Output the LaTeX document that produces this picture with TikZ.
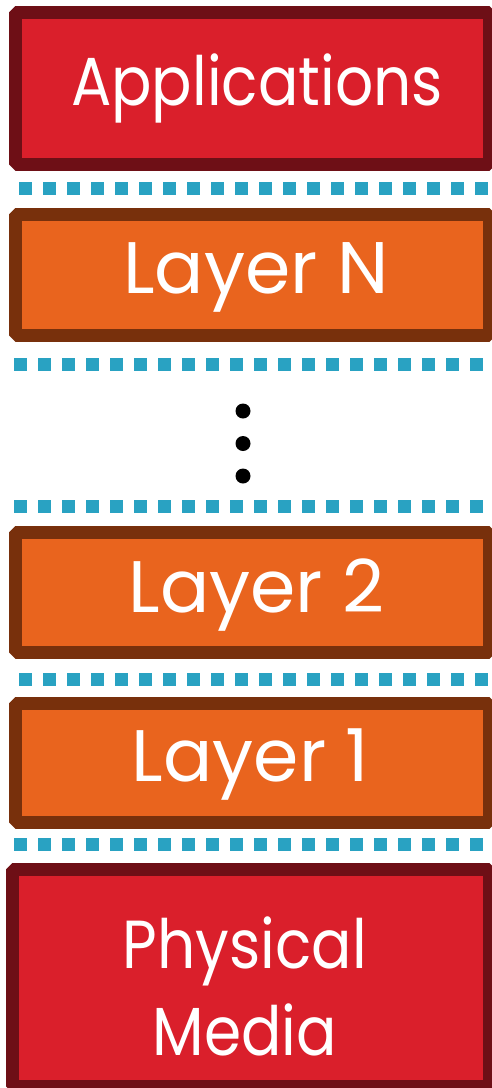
\documentclass[tikz,border=0pt]{standalone}
\usepackage{fontspec}
\setmainfont{Poppins}
\usepackage{xcolor}

\definecolor{appred}{RGB}{218,31,43}
\definecolor{appredline}{RGB}{110,15,22}
\definecolor{layerorange}{RGB}{233,100,30}
\definecolor{layerbrown}{RGB}{120,48,12}
\definecolor{sepblue}{RGB}{41,162,194}

\begin{document}
\begin{tikzpicture}[x=1pt, y=-1pt,
    redbox/.style={draw=appredline, fill=appred, line width=13pt, line join=bevel, inner sep=0pt, outer sep=0pt},
    layerbox/.style={draw=layerbrown, fill=layerorange, line width=13pt, line join=bevel, inner sep=0pt, outer sep=0pt},
    boxtext/.style={text=white, anchor=base, inner sep=0pt, align=center, font=\fontsize{68}{87}\selectfont\addfontfeature{FakeStretch=0.88}},
    layertext/.style={boxtext, font=\fontsize{73}{87}\selectfont},
    seprow/.style={sepblue, line width=13pt, dash pattern=on 13pt off 11pt}]

    \useasboundingbox (0,0) rectangle (492,1088);
    \clip (0,0) rectangle (492,1088);

    % Stack of boxes
    \node[redbox, minimum width=474pt, minimum height=152pt] (apps) at (252.5,88.5) {};
    \node[layerbox, minimum width=474pt, minimum height=121pt] (layerN) at (252.5,275) {};
    \node[layerbox, minimum width=474pt, minimum height=120pt] (layer2) at (252.5,592.5) {};
    \node[layerbox, minimum width=474pt, minimum height=119pt] (layer1) at (252.5,763) {};
    \node[redbox, minimum width=477pt, minimum height=217pt] (media) at (251,978) {};

    \node[boxtext] (appstext) at (257,105) {Applications};
    \node[layertext] (layerNtext) at (256,293) {Layer N};
    \node[layertext] (layer2text) at (256.5,612) {Layer 2};
    \node[layertext] (layer1text) at (250.5,781) {Layer 1};
    \node[boxtext] (mediatext) at (245,1055) {Physical\\Media};

    % Dotted separators
    \coordinate (s1a) at (19,188.5);
    \coordinate (s1b) at (488,188.5);
    \coordinate (s2a) at (14,364.5);
    \coordinate (s2b) at (483,364.5);
    \coordinate (s3a) at (14,506);
    \coordinate (s3b) at (483,506);
    \coordinate (s4a) at (19,679);
    \coordinate (s4b) at (488,679);
    \coordinate (s5a) at (14,844.5);
    \coordinate (s5b) at (483,844.5);

    \draw[seprow] (s1a) -- (s1b);
    \draw[seprow] (s2a) -- (s2b);
    \draw[seprow] (s3a) -- (s3b);
    \draw[seprow] (s4a) -- (s4b);
    \draw[seprow] (s5a) -- (s5b);

    % Vertical ellipsis
    \coordinate (d1) at (243,411);
    \coordinate (d2) at (243,443.5);
    \coordinate (d3) at (243,476);

    \fill[black] (d1) circle (7.5pt);
    \fill[black] (d2) circle (7.5pt);
    \fill[black] (d3) circle (7.5pt);

\end{tikzpicture}
\end{document}
